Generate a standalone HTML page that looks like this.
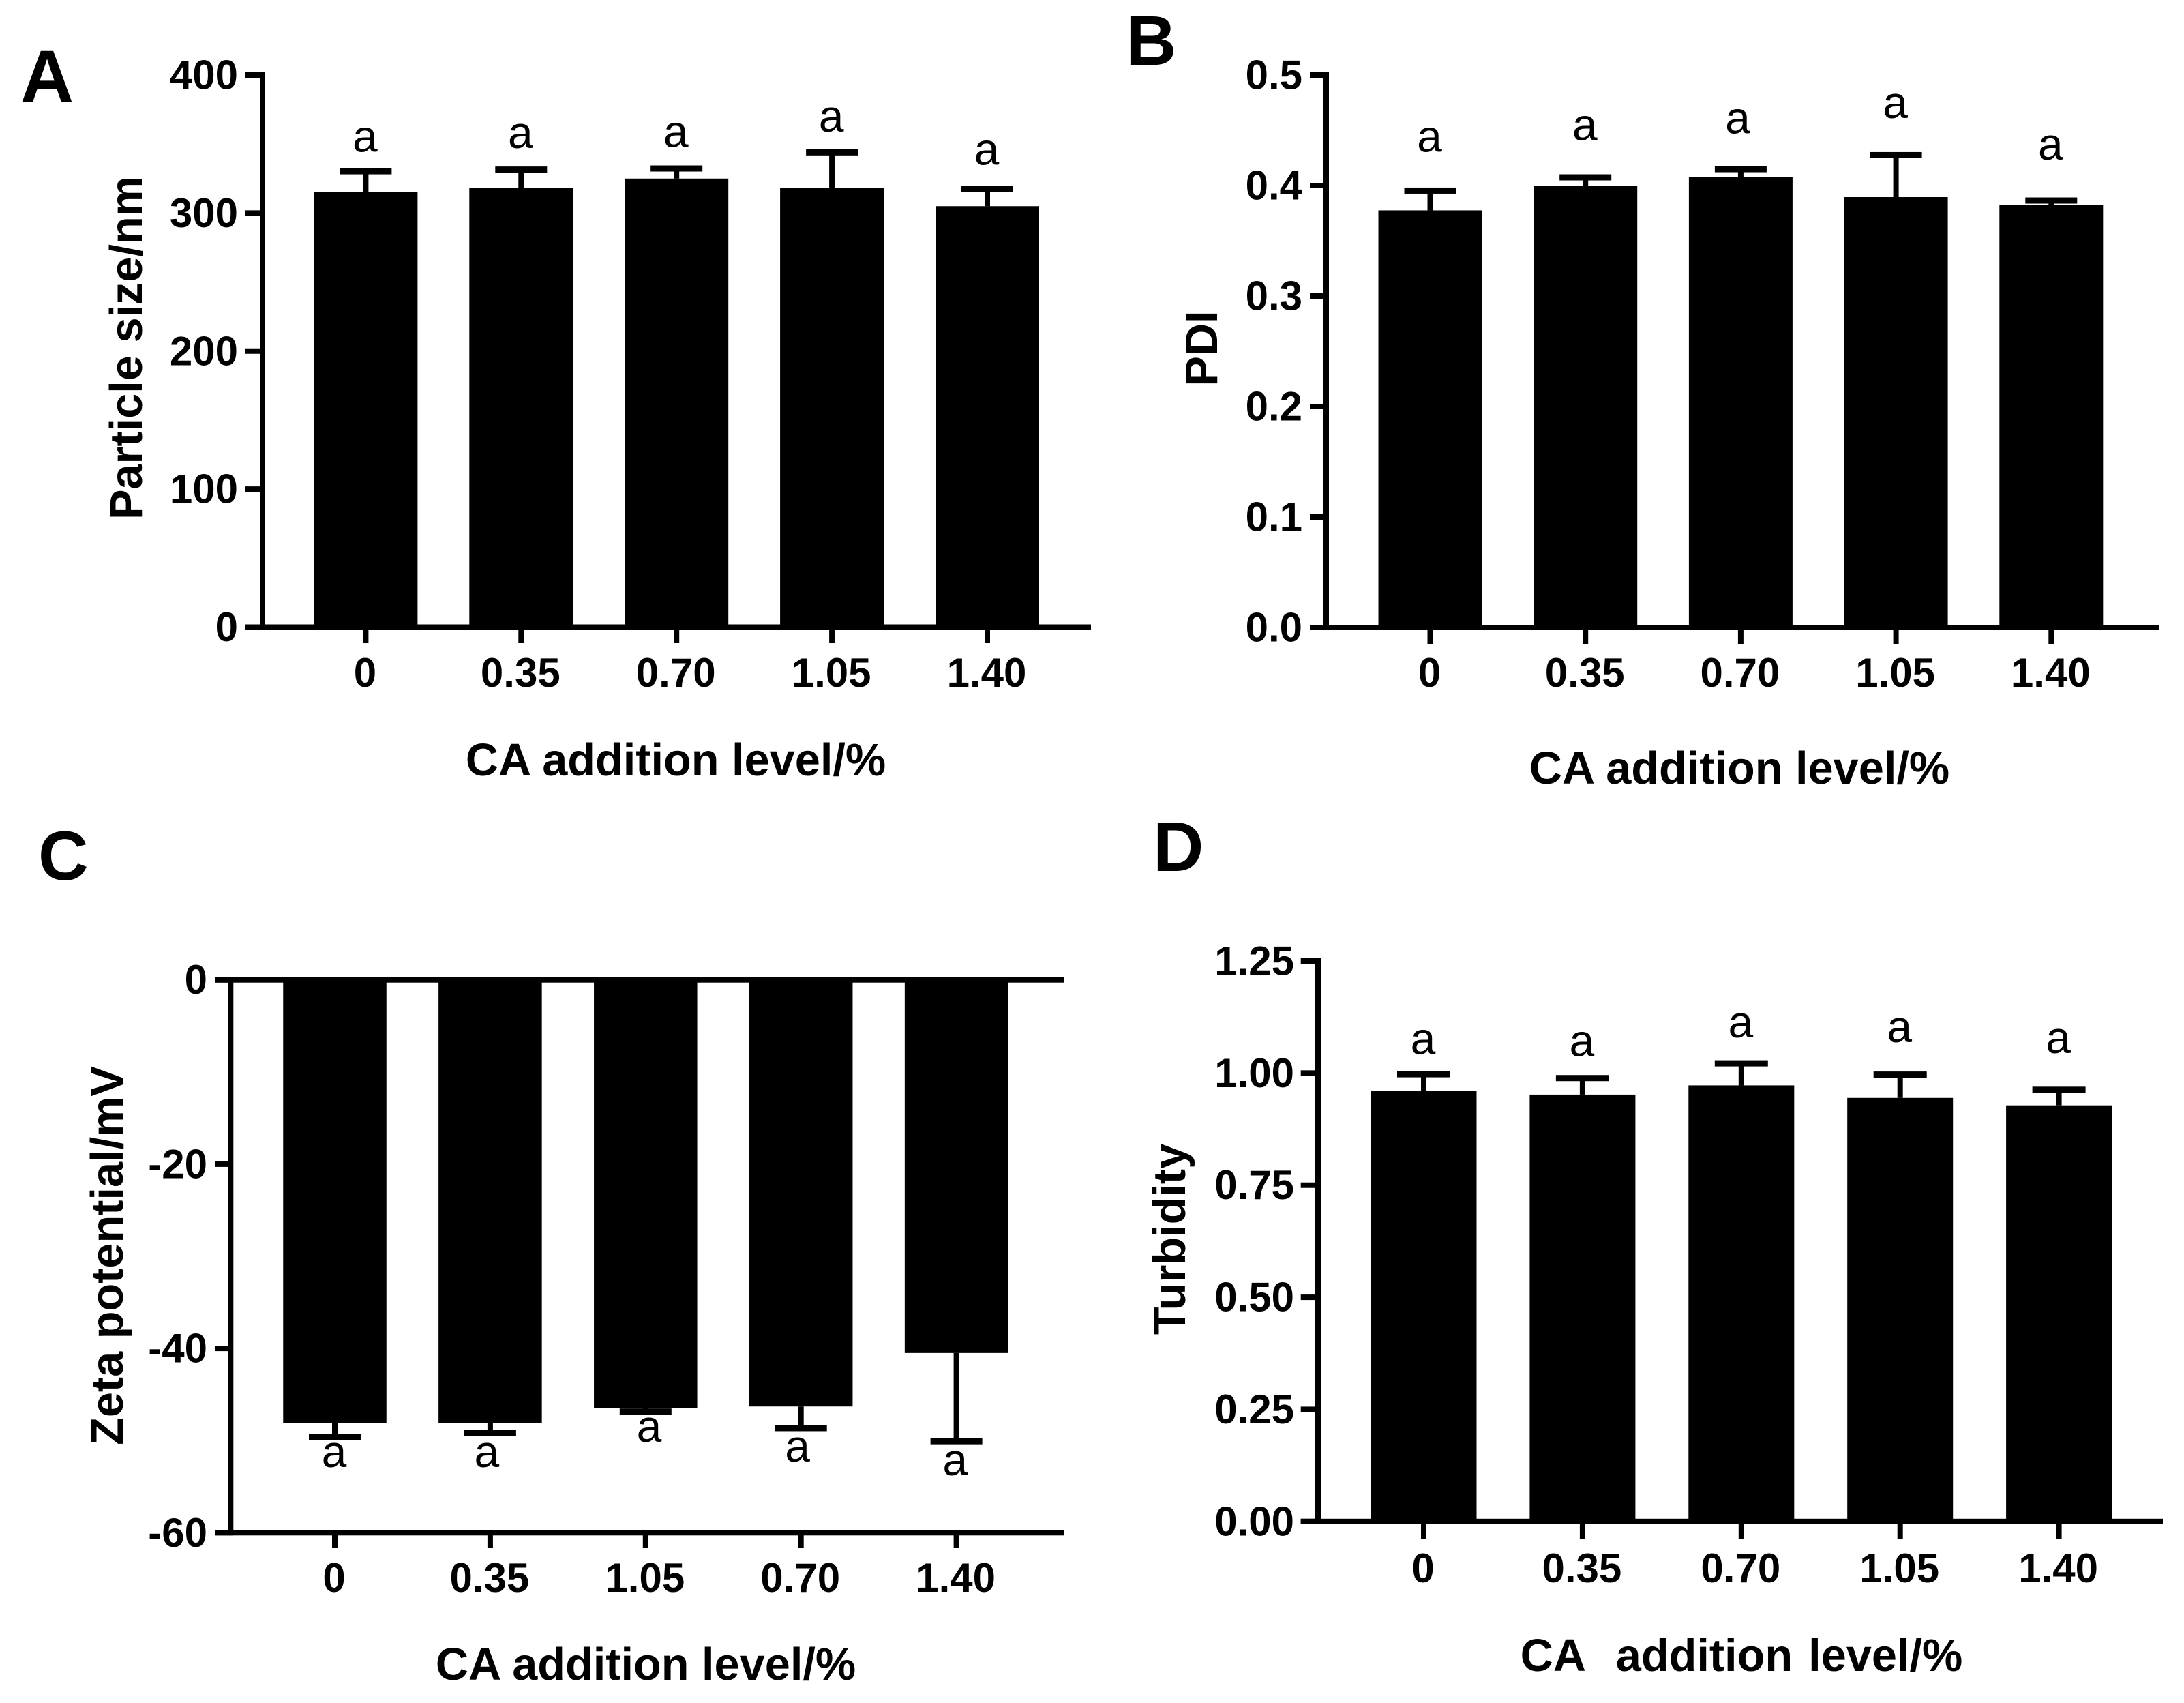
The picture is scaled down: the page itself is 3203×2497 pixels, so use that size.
<!DOCTYPE html>
<html lang="en">
<head>
<meta charset="utf-8">
<title>Effect of CA addition level on particle size, PDI, zeta potential and turbidity</title>
<style>
html,body{margin:0;padding:0;background:#fff;width:3203px;height:2497px;overflow:hidden}
svg{display:block;font-family:"Liberation Sans",Arial,sans-serif;fill:#000}
.panel{font-size:103px;font-weight:700}
.title{font-size:66.7px;font-weight:700;white-space:pre}
.tick{font-size:60px;font-weight:700}
.sig{font-size:66px;font-weight:400;text-anchor:middle}
</style>
</head>
<body>
<svg id="figure" xmlns="http://www.w3.org/2000/svg" width="3203" height="2497" viewBox="0 0 3203 2497">
  <rect x="0" y="0" width="3203" height="2497" fill="#fff"/>

  <text class="panel" x="30" y="149" style="font-size:108px">A</text>
  <text class="panel" x="1651" y="95">B</text>
  <text class="panel" x="56" y="1290" style="font-size:102px">C</text>
  <text class="panel" x="1691" y="1277">D</text>

  <text class="title" text-anchor="middle" transform="translate(208 510) rotate(-90)">Particle size/nm</text>
  <text class="title" text-anchor="middle" transform="translate(1785 511) rotate(-90)">PDI</text>
  <text class="title" text-anchor="middle" transform="translate(180 1841) rotate(-90)">Zeta potential/mV</text>
  <text class="title" text-anchor="middle" transform="translate(1738 1817) rotate(-90)">Turbidity</text>

  <text class="title" text-anchor="middle" x="991" y="1137">CA addition level/%</text>
  <text class="title" text-anchor="middle" x="2551" y="1149">CA addition level/%</text>
  <text class="title" text-anchor="middle" x="947" y="2463">CA addition level/%</text>
  <text class="title" text-anchor="middle" x="2554" y="2450" style="word-spacing:4.6px">CA  addition level/%</text>
</svg>

<script>
// Panel A: particle size
const categoriesA = ['0', '0.35', '0.70', '1.05', '1.40'];
const meansA = [315.5, 318, 325, 318.3, 305];
const errorEndsA = [330.3, 331.5, 332.3, 344, 317.6];
const sigLabelValuesA = [344.5, 347.1, 347.8, 359, 334.9];
const sigLabelSlotShiftsA = [0, 0, 0, 0, 0];
const yTicksA = [0, 100, 200, 300, 400];
const yTickLabelsA = ['0', '100', '200', '300', '400'];

// Panel B: PDI
const categoriesB = ['0', '0.35', '0.70', '1.05', '1.40'];
const meansB = [0.3775, 0.3995, 0.408, 0.3895, 0.3827];
const errorEndsB = [0.3954, 0.4074, 0.4148, 0.4275, 0.3864];
const sigLabelValuesB = [0.4306, 0.4411, 0.4471, 0.4611, 0.4235];
const sigLabelSlotShiftsB = [0, 0, -0.015, 0, 0];
const yTicksB = [0, 0.1, 0.2, 0.3, 0.4, 0.5];
const yTickLabelsB = ['0.0', '0.1', '0.2', '0.3', '0.4', '0.5'];

// Panel C: zeta potential
const categoriesC = ['0', '0.35', '1.05', '0.70', '1.40'];
const meansC = [-48.1, -48.1, -46.5, -46.3, -40.5];
const errorEndsC = [-49.6, -49.15, -46.85, -48.65, -50.07];
const sigLabelValuesC = [-52.87, -52.87, -50.13, -52.28, -53.76];
const sigLabelSlotShiftsC = [0, -0.018, 0.027, -0.018, -0.004];
const yTicksC = [-60, -40, -20, 0];
const yTickLabelsC = ['-60', '-40', '-20', '0'];

// Panel D: turbidity
const categoriesD = ['0', '0.35', '0.70', '1.05', '1.40'];
const meansD = [0.96, 0.952, 0.9725, 0.9446, 0.928];
const errorEndsD = [0.9974, 0.9888, 1.0217, 0.9966, 0.9628];
const sigLabelValuesD = [1.042, 1.0375, 1.0793, 1.0689, 1.045];
const sigLabelSlotShiftsD = [0, 0, 0, 0, 0];
const yTicksD = [0, 0.25, 0.5, 0.75, 1, 1.25];
const yTickLabelsD = ['0.00', '0.25', '0.50', '0.75', '1.00', '1.25'];

const SVG_NS = 'http://www.w3.org/2000/svg';
const figure = document.getElementById('figure');
const LINE = 8;

function shape(tag, attrs, parent) {
  const node = document.createElementNS(SVG_NS, tag);
  for (const key in attrs) node.setAttribute(key, attrs[key]);
  parent.appendChild(node);
  return node;
}

function drawPanel(layout, categories, means, errorEnds, sigValues, sigShifts, yTicks, yTickLabels) {
  const group = shape('g', {}, figure);
  
  

  const minTick = Math.min.apply(null, yTicks);
  const maxTick = Math.max.apply(null, yTicks);
  const yScale = v => layout.yBottom + (v - minTick) / (maxTick - minTick) * (layout.yTop - layout.yBottom);
  const xScale = i => layout.xFirst + layout.xStep * i;

  categories.forEach((label, i) => {
    const cx = xScale(i);
    const base = yScale(0);
    const end = yScale(means[i]);
    const bar = shape('rect', {
      x: cx - layout.barWidth / 2,
      y: Math.min(base, end),
      width: layout.barWidth,
      height: Math.abs(base - end)
    }, group);
    
    

    const capY = yScale(errorEnds[i]);
    const stem = shape('rect', {
      x: cx - LINE / 2,
      y: Math.min(end, capY),
      width: LINE,
      height: Math.abs(end - capY)
    }, group);
    
    

    const cap = shape('rect', {
      x: cx - layout.capWidth / 2,
      y: capY - LINE / 2 - 0.5,
      width: layout.capWidth,
      height: LINE + 1
    }, group);
    
    

    const sig = shape('text', { class: 'sig', x: xScale(i + sigShifts[i]) - 1, y: yScale(sigValues[i]) }, group);
    sig.textContent = 'a';
    
    

    const xTick = shape('rect', {
      x: cx - LINE / 2,
      y: layout.yBottom,
      width: LINE,
      height: layout.xTickBottom - layout.yBottom
    }, group);
    
    

    const xLabel = shape('text', { class: 'tick', 'text-anchor': 'middle', x: cx - 1, y: layout.xLabelBaseline }, group);
    xLabel.textContent = label;
    
    
  });

  yTicks.forEach((value, i) => {
    const py = yScale(value);
    const tick = shape('rect', {
      x: layout.yTickLeft,
      y: py - LINE / 2,
      width: layout.axisX - layout.yTickLeft,
      height: LINE
    }, group);
    
    

    const tickLabel = shape('text', { class: 'tick', 'text-anchor': 'end', x: layout.yLabelRight, y: py + 20.5 }, group);
    tickLabel.textContent = yTickLabels[i];
    
    
  });

  const yAxis = shape('rect', {
    x: layout.axisX - LINE / 2,
    y: layout.yTop - LINE / 2,
    width: LINE,
    height: layout.yBottom - layout.yTop + LINE
  }, group);
  
  

  const xAxis = shape('rect', {
    x: layout.yTickLeft,
    y: layout.yBottom - LINE / 2,
    width: layout.xEnd - layout.yTickLeft,
    height: LINE
  }, group);
  
  

  if (minTick < 0) {
    const zeroLine = shape('rect', {
      x: layout.yTickLeft,
      y: yScale(0) - LINE / 2,
      width: layout.xEnd - layout.yTickLeft,
      height: LINE
    }, group);
    
    
  }
}

drawPanel(
  { yTop: 110, yBottom: 919.5, axisX: 385, yTickLeft: 360, xEnd: 1600, xFirst: 536.4, xStep: 227.9, barWidth: 152, capWidth: 76,
    xTickBottom: 943, xLabelBaseline: 1007, yLabelRight: 349 },
  categoriesA, meansA, errorEndsA, sigLabelValuesA, sigLabelSlotShiftsA, yTicksA, yTickLabelsA
);
drawPanel(
  { yTop: 110, yBottom: 920, axisX: 1945, yTickLeft: 1921, xEnd: 3166, xFirst: 2097.5, xStep: 227.7, barWidth: 152, capWidth: 76,
    xTickBottom: 944, xLabelBaseline: 1007, yLabelRight: 1910 },
  categoriesB, meansB, errorEndsB, sigLabelValuesB, sigLabelSlotShiftsB, yTicksB, yTickLabelsB
);
drawPanel(
  { yTop: 1436.7, yBottom: 2247.3, axisX: 338.3, yTickLeft: 315, xEnd: 1560.6, xFirst: 491, xStep: 227.9, barWidth: 151.5, capWidth: 76,
    xTickBottom: 2270, xLabelBaseline: 2334, yLabelRight: 304 },
  categoriesC, meansC, errorEndsC, sigLabelValuesC, sigLabelSlotShiftsC, yTicksC, yTickLabelsC
);
drawPanel(
  { yTop: 1409, yBottom: 2230.8, axisX: 1933, yTickLeft: 1907.7, xEnd: 3172, xFirst: 2088, xStep: 232.9, barWidth: 155, capWidth: 78,
    xTickBottom: 2256, xLabelBaseline: 2320, yLabelRight: 1898 },
  categoriesD, meansD, errorEndsD, sigLabelValuesD, sigLabelSlotShiftsD, yTicksD, yTickLabelsD
);
</script>
</body>
</html>
